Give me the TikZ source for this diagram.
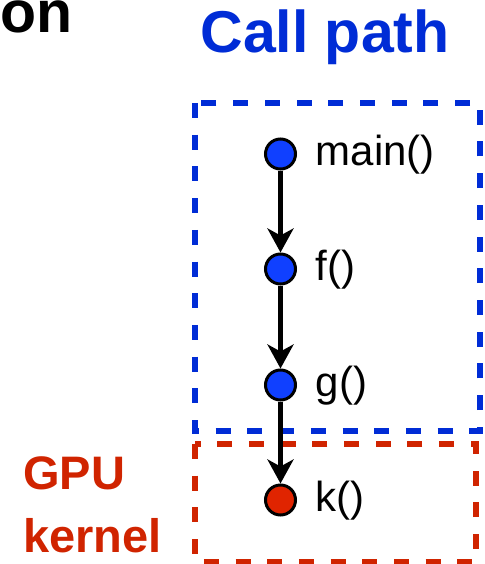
\documentclass[tikz,border=0pt]{standalone}
\usepackage{fontspec}
\setmainfont{Liberation Sans}
\usetikzlibrary{arrows.meta}
\definecolor{cpblue}{RGB}{0,44,214}
\definecolor{ndblue}{RGB}{16,64,255}
\definecolor{gkred}{RGB}{208,36,0}
\definecolor{ndred}{RGB}{224,36,0}
\begin{document}
\begin{tikzpicture}[x=1pt,y=-1pt,
  fn/.style={circle, draw=black, line width=3pt, minimum size=30pt, inner sep=0pt},
  lbl/.style={anchor=base west, inner sep=0pt, font=\fontsize{42}{50}\selectfont},
  call/.style={-{Stealth[length=24pt,width=26pt,inset=7pt]}, line width=4.7pt},
  box/.style={line width=6pt, dash pattern=on 15pt off 16.7pt},
  ttl/.style={inner sep=0pt, font=\bfseries\fontsize{59}{60}\selectfont},
  side/.style={anchor=base west, inner sep=0pt, text=gkred, font=\bfseries\fontsize{47}{50}\selectfont}
]
\useasboundingbox (0,0) rectangle (484,564);
% boxes
\draw[box, cpblue] (195,103) rectangle (480,431);
\draw[box, gkred] (195,444) rectangle (476,562);
% titles
\node[ttl, anchor=base west] (on) at (0,33) {on};
\node[ttl, anchor=base, text=cpblue] (title) at (325,53) {Call path};
\node[side] (gpu) at (23,489) {GPU};
\node[side] (kernel) at (23,552) {kernel};
% call nodes
\node[fn, fill=ndblue] (main) at (280.5,154) {};
\node[fn, fill=ndblue] (f) at (280.5,269) {};
\node[fn, fill=ndblue] (g) at (280.5,385) {};
\node[fn, fill=ndred] (k) at (280.5,500) {};
\node[lbl] (mainl) at (315.5,165) {main()};
\node[lbl] (fl) at (315.5,280) {f()};
\node[lbl] (gl) at (315.5,396) {g()};
\node[lbl] (kl) at (315.5,511) {k()};
% calls
\draw[call] (main) -- (f);
\draw[call] (f) -- (g);
\draw[call] (g) -- (k);
\end{tikzpicture}
\end{document}
